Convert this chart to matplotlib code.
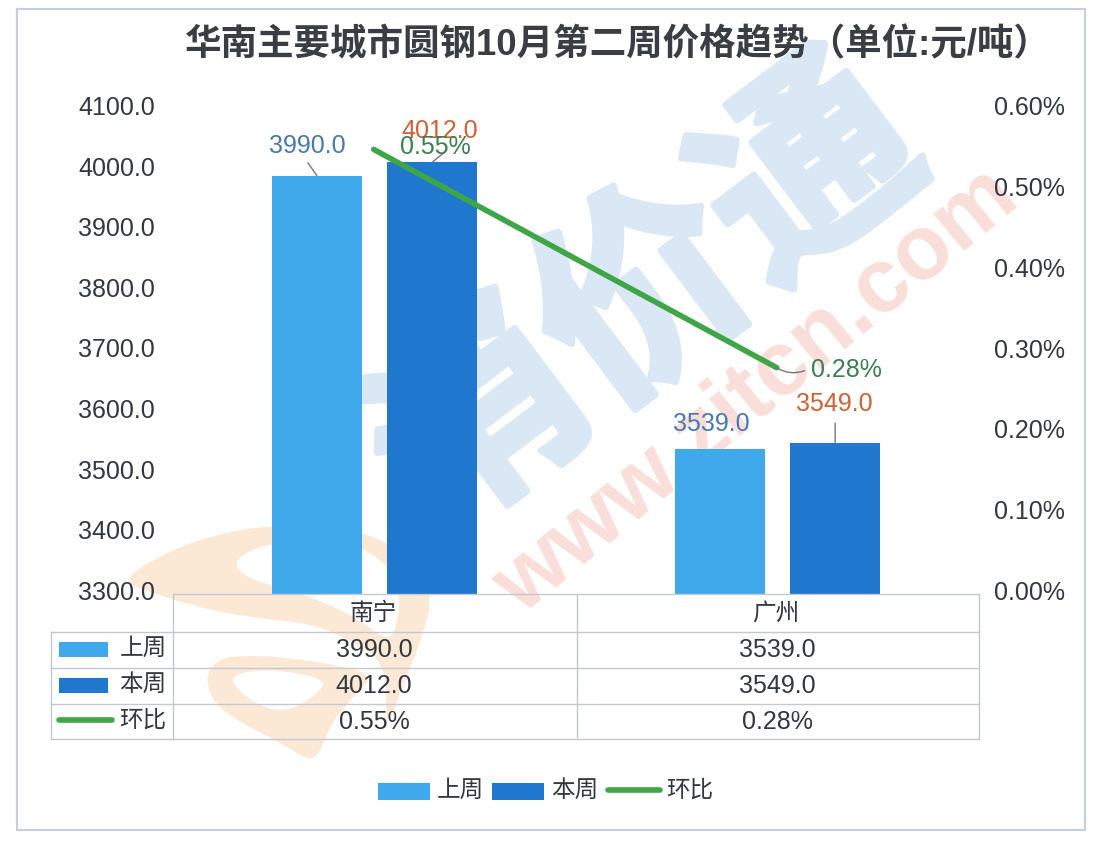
import numpy as np
import matplotlib
matplotlib.use("Agg")
import matplotlib.pyplot as plt
import matplotlib.patheffects as pe
from matplotlib.patches import PathPatch, Rectangle
from matplotlib.path import Path
from matplotlib.transforms import ScaledTranslation

plt.rcParams['font.family'] = ['Liberation Sans', 'Noto Sans CJK SC', 'DejaVu Sans']

title = "华南主要城市圆钢10月第二周价格趋势（单位:元/吨）"
cities = ["南宁", "广州"]
last_week = [3990.0, 3539.0]
this_week = [4012.0, 3549.0]
change = [0.55, 0.28]
left_ticks = [3300, 3400, 3500, 3600, 3700, 3800, 3900, 4000, 4100]
right_ticks = [0.0, 0.1, 0.2, 0.3, 0.4, 0.5, 0.6]

LIGHT = "#3FA9EC"
DARK = "#1F78CE"
GREEN = "#3FA648"
GRID = "#c4c8cc"
TEXT = "#33373f"
SWOOSH = "#FBE9D6"
W, H = 1094, 842

fig = plt.figure(figsize=(W / 100, H / 100), dpi=100, facecolor="white")

# full figure layer in pixels, for frame, watermark, table and legend
bg = fig.add_axes([0, 0, 1, 1], zorder=0)
bg.set_xlim(0, W)
bg.set_ylim(H, 0)
bg.axis("off")
bg.add_patch(Rectangle((17, 9), 1068, 821, fc="white", ec="#c3cfe0", lw=1.5))

# watermarks
bg.text(650, 305, "消价通", fontsize=150, fontweight="bold", color="#D9E8F4",
        rotation=37, ha="center", va="center", rotation_mode="anchor",
        path_effects=[pe.withStroke(linewidth=5, foreground="#D9E8F4")])
bg.text(757, 392, "www.zitcn.com", fontsize=65, fontweight="bold", color="#F9DEDA",
        rotation=39.5, ha="center", va="center", rotation_mode="anchor")


def smooth_blob(points):
    # closed quadratic spline through the midpoints of the outline
    pts = np.array(points, dtype=float)
    mids = (pts + np.roll(pts, -1, axis=0)) / 2
    verts = [mids[-1]]
    codes = [Path.MOVETO]
    for p, m in zip(pts, mids):
        verts += [p, m]
        codes += [Path.CURVE3, Path.CURVE3]
    return Path(verts, codes)


# orange swoosh, upper band and lower band, holes painted over
upper = [(120, 580), (170, 550), (225, 532), (277, 525), (330, 525), (380, 538), (415, 560),
         (432, 593), (425, 630), (405, 680), (385, 735), (387, 663), (350, 640), (310, 623),
         (250, 618), (190, 605), (150, 592)]
upper_hole = [(233, 563), (250, 550), (277, 543), (320, 541), (363, 547), (390, 568), (400, 593),
              (398, 620), (390, 643), (360, 620), (320, 600), (277, 587), (245, 577)]
lower = [(205, 680), (215, 660), (243, 655), (290, 658), (337, 665), (375, 675), (350, 700),
         (330, 725), (315, 765), (285, 745), (245, 725), (215, 705)]
lower_hole = [(228, 680), (245, 671), (280, 670), (330, 680), (310, 700), (285, 712), (255, 705)]
bg.add_patch(PathPatch(smooth_blob(upper), fc=SWOOSH, ec="none"))
bg.add_patch(PathPatch(smooth_blob(upper_hole), fc="white", ec="none"))
bg.add_patch(PathPatch(smooth_blob(lower), fc=SWOOSH, ec="none"))
bg.add_patch(PathPatch(smooth_blob(lower_hole), fc="white", ec="none"))

# main axes, 3300 sits on the table top, categories fill the table columns
ax = fig.add_axes([173 / W, 1 - 594 / H, (979 - 173) / W, (594 - 109) / H], zorder=1)
ax.patch.set_visible(False)
x = np.arange(len(cities))
bar_w = 0.2245
ax.bar(x - 0.143, last_week, bar_w, color=LIGHT, zorder=2)
ax.bar(x + 0.143, this_week, bar_w, color=DARK, zorder=2)
ax.set_xlim(-0.5, 1.5)
ax.set_ylim(3300, 4100)
ax.set_yticks(left_ticks)
ax.set_yticklabels([f"{t:.1f}" for t in left_ticks], fontsize=18, color=TEXT)
ax.set_xticks([])
ax.tick_params(axis="y", length=0, pad=13)
for s in ax.spines.values():
    s.set_visible(False)

ax2 = ax.twinx()
ax2.set_zorder(3)
ax2.plot(x - 0.002, change, color=GREEN, lw=4, solid_capstyle="round", zorder=3)
ax2.set_ylim(0, 0.6)
ax2.set_yticks(right_ticks)
ax2.set_yticklabels([f"{t:.2f}%" for t in right_ticks], fontsize=18, color=TEXT)
ax2.tick_params(axis="y", length=0, pad=10.5)
for s in ax2.spines.values():
    s.set_visible(False)

# tick labels sit a little above their true level in the original
lift = ScaledTranslation(0, 3.5 / 100, fig.dpi_scale_trans)
for lab in ax.get_yticklabels() + ax2.get_yticklabels():
    lab.set_transform(lab.get_transform() + lift)


def px(dx, dy):
    return (dx * 0.72, dy * 0.72)


def label(a, xv, yv, txt, color, off, start=None, curve=0.0):
    a.annotate(txt, (xv, yv), xytext=px(*off), textcoords="offset points", fontsize=18,
               color=color, ha="center", va="center", zorder=6)
    if start is not None:
        a.annotate("", (xv, yv), xytext=px(*start), textcoords="offset points",
                   arrowprops=dict(arrowstyle="-", color="#777777", lw=1, shrinkA=0, shrinkB=0,
                                   connectionstyle=f"arc3,rad={curve}"))


BLUE_LAB = "#4A78B0"
ORANGE_LAB = "#CF6235"
GREEN_LAB = "#3C7F52"
label(ax2, x[0] - 0.002, change[0], f"{change[0]:.2f}%", GREEN_LAB, (62, 2))
label(ax2, x[1] - 0.002, change[1], f"{change[1]:.2f}%", GREEN_LAB, (70, -2), start=(28, -3), curve=-0.25)
label(ax, x[0] - 0.143, last_week[0], f"{last_week[0]:.1f}", BLUE_LAB, (-10, 30), start=(-9, 13))
label(ax, x[1] - 0.143, last_week[1], f"{last_week[1]:.1f}", BLUE_LAB, (-9, 25))
label(ax, x[0] + 0.143, this_week[0], f"{this_week[0]:.1f}", ORANGE_LAB, (8, 31), start=(11, 9))
label(ax, x[1] + 0.143, this_week[1], f"{this_week[1]:.1f}", ORANGE_LAB, (-1, 39), start=(0, 20))

# title
top = fig.add_axes([0, 0, 1, 1], zorder=5)
top.set_xlim(0, W)
top.set_ylim(H, 0)
top.axis("off")
top.text(618, 46, title, fontsize=26.3, fontweight="bold", color="#3a3d44", ha="center", va="center")

# data table
rows_y = [594, 632, 668, 704, 739]
cols_x = [173, 577, 979]
for y in rows_y:
    top.plot([51 if y > 600 else 173, 979], [y, y], color=GRID, lw=1)
for xv in cols_x:
    top.plot([xv, xv], [594, 739], color=GRID, lw=1)
top.plot([51, 51], [632, 739], color=GRID, lw=1)

for i, city in enumerate(cities):
    cx = (cols_x[i] + cols_x[i + 1]) / 2 - 1
    top.text(cx - 1, 614, city, fontsize=17, color=TEXT, ha="center", va="center")
    top.text(cx, 650, f"{last_week[i]:.1f}", fontsize=18, color=TEXT, ha="center", va="center")
    top.text(cx, 686, f"{this_week[i]:.1f}", fontsize=18, color=TEXT, ha="center", va="center")
    top.text(cx, 722, f"{change[i]:.2f}%", fontsize=18, color=TEXT, ha="center", va="center")

top.add_patch(Rectangle((59, 642), 49, 15, fc=LIGHT, ec="none"))
top.add_patch(Rectangle((59, 678), 49, 15, fc=DARK, ec="none"))
top.plot([59, 112], [720, 720], color=GREEN, lw=4, solid_capstyle="round")
for name, y in zip(["上周", "本周", "环比"], [649, 685, 721]):
    top.text(143, y, name, fontsize=17, color=TEXT, ha="center", va="center")

# bottom legend
top.add_patch(Rectangle((378, 783), 52, 17, fc=LIGHT, ec="none"))
top.add_patch(Rectangle((492, 783), 52, 17, fc=DARK, ec="none"))
top.plot([608, 660], [790, 790], color=GREEN, lw=4, solid_capstyle="round")
for name, xv in zip(["上周", "本周", "环比"], [460, 575, 690]):
    top.text(xv, 791, name, fontsize=17, color=TEXT, ha="center", va="center")

fig.savefig("out.png", dpi=100, facecolor="white")
